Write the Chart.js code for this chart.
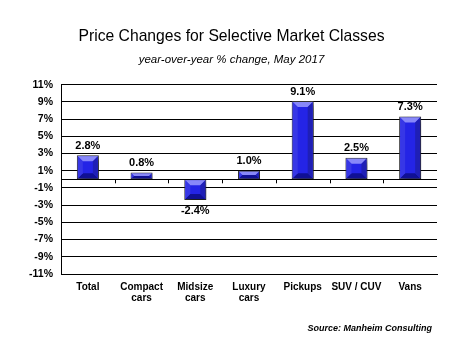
<!DOCTYPE html>
<html>
<head>
<meta charset="utf-8">
<script src="https://cdn.jsdelivr.net/npm/chart.js@4"></script>
<style>
  body { margin: 0; background: #fff; }
  canvas { display: block; }
</style>
</head>
<body>
<canvas id="PriceChart" width="468" height="351"></canvas>
<script>
const categories = ['Total', ['Compact', 'cars'], ['Midsize', 'cars'], ['Luxury', 'cars'], 'Pickups', 'SUV / CUV', 'Vans'];
const priceChange = [2.8, 0.8, -2.4, 1.0, 9.1, 2.5, 7.3];
const yTicks = [-11, -9, -7, -5, -3, -1, 1, 3, 5, 7, 9, 11];

document.addEventListener("DOMContentLoaded", () => {
  const ctx = document.getElementById("PriceChart").getContext('2d')

  // drop shadow + bevel look on the bars
  const bevelBars = {
    id: 'bevelBars',
    beforeDatasetDraw: (chart) => {
      const c = chart.ctx;
      c.save();
      c.shadowColor = 'rgba(0,0,0,0.55)';
      c.shadowBlur = 6;
      c.shadowOffsetX = 3;
      c.shadowOffsetY = 3;
    },
    afterDatasetDraw: (chart) => {
      const c = chart.ctx;
      c.restore();
      const bars = chart.getDatasetMeta(0).data;
      bars.forEach(bar => {
        const left = bar.x - bar.width / 2 + 1, right = bar.x + bar.width / 2 - 1;
        const top = Math.min(bar.y, bar.base) + 1, bottom = Math.max(bar.y, bar.base) - 1;
        const b = Math.min(5, (right - left) / 2, (bottom - top) / 2);
        c.save();
        // top bevel
        c.fillStyle = 'rgba(170,170,255,0.75)';
        c.beginPath();
        c.moveTo(left, top); c.lineTo(right, top); c.lineTo(right - b, top + b); c.lineTo(left + b, top + b);
        c.closePath(); c.fill();
        // bottom bevel
        c.fillStyle = 'rgba(10,10,120,0.75)';
        c.beginPath();
        c.moveTo(left, bottom); c.lineTo(right, bottom); c.lineTo(right - b, bottom - b); c.lineTo(left + b, bottom - b);
        c.closePath(); c.fill();
        // side bevels
        c.fillStyle = 'rgba(60,60,230,0.8)';
        c.beginPath();
        c.moveTo(left, top); c.lineTo(left + b, top + b); c.lineTo(left + b, bottom - b); c.lineTo(left, bottom);
        c.closePath(); c.fill();
        c.fillStyle = 'rgba(30,30,170,0.8)';
        c.beginPath();
        c.moveTo(right, top); c.lineTo(right - b, top + b); c.lineTo(right - b, bottom - b); c.lineTo(right, bottom);
        c.closePath(); c.fill();
        c.restore();
      });
    }
  };

  // value labels, zero line ticks and source note
  const extras = {
    id: 'extras',
    afterDraw: (chart) => {
      const c = chart.ctx;
      const x = chart.scales.x, y = chart.scales.y;
      const zero = y.getPixelForValue(0);
      c.save();
      c.strokeStyle = '#000';
      c.lineWidth = 1;
      c.beginPath();
      c.moveTo(chart.chartArea.left, Math.round(zero) + 0.5);
      c.lineTo(chart.chartArea.right, Math.round(zero) + 0.5);
      for (let i = 1; i < categories.length; i++) {
        const px = Math.round(x.getPixelForValue(i - 0.5)) + 0.5;
        c.moveTo(px, zero);
        c.lineTo(px, zero + 4);
      }
      c.stroke();

      c.font = 'bold 11px "Liberation Sans", Arial, sans-serif';
      c.fillStyle = '#000';
      c.textAlign = 'center';
      chart.getDatasetMeta(0).data.forEach((bar, i) => {
        const v = priceChange[i];
        if (v >= 0) {
          c.textBaseline = 'bottom';
          c.fillText(v.toFixed(1) + '%', bar.x, bar.y - 4);
        } else {
          c.textBaseline = 'top';
          c.fillText(v.toFixed(1) + '%', bar.x, bar.y + 5);
        }
      });

      c.font = 'italic bold 9px "Liberation Sans", Arial, sans-serif';
      c.textAlign = 'right';
      c.textBaseline = 'middle';
      c.fillText('Source: Manheim Consulting', 432, 329);
      c.restore();
    }
  };

  const priceChart = new Chart(ctx, {
    type: 'bar',
    data: {
      labels: categories,
      datasets: [{
        label: 'Price change',
        data: priceChange,
        backgroundColor: '#2424e6',
        borderColor: '#333333',
        borderWidth: 1,
        borderSkipped: false,
        barPercentage: 0.41,
        categoryPercentage: 1
      }]
    },
    options: {
      responsive: false,
      animation: false,
      layout: { padding: { left: 26, right: 31, top: 0, bottom: 0 } },
      plugins: {
        legend: { display: false },
        tooltip: { enabled: false },
        title: {
          display: true,
          text: 'Price Changes for Selective Market Classes',
          color: '#000',
          font: { family: '"Liberation Sans", Arial, sans-serif', size: 15.7, weight: 'normal', lineHeight: 1.2 },
          padding: { top: 27, bottom: 7 }
        },
        subtitle: {
          display: true,
          text: 'year-over-year % change, May 2017',
          color: '#000',
          font: { family: '"Liberation Sans", Arial, sans-serif', size: 11.5, style: 'italic', lineHeight: 1.2 },
          padding: { top: 0, bottom: 18 }
        }
      },
      scales: {
        x: {
          grid: { display: false, drawTicks: false },
          border: { display: true, color: '#000', width: 1 },
          ticks: {
            color: '#000',
            padding: 7,
            maxRotation: 0,
            autoSkip: false,
            font: { family: '"Liberation Sans", Arial, sans-serif', size: 10, weight: 'bold', lineHeight: 1.15 }
          },
          afterFit: (scale) => { scale.height = 77; }
        },
        y: {
          min: -11,
          max: 11,
          afterBuildTicks: (scale) => { scale.ticks = yTicks.map(v => ({ value: v })); },
          grid: { color: '#000', lineWidth: 1, drawTicks: false },
          border: { display: true, color: '#000', width: 1 },
          ticks: {
            color: '#000',
            padding: 8,
            callback: (v) => v + '%',
            font: { family: '"Liberation Sans", Arial, sans-serif', size: 10.5, weight: 'bold' }
          },
          afterFit: (scale) => { scale.width = 35; }
        }
      }
    },
    plugins: [bevelBars, extras]
  })
});
</script>
</body>
</html>
